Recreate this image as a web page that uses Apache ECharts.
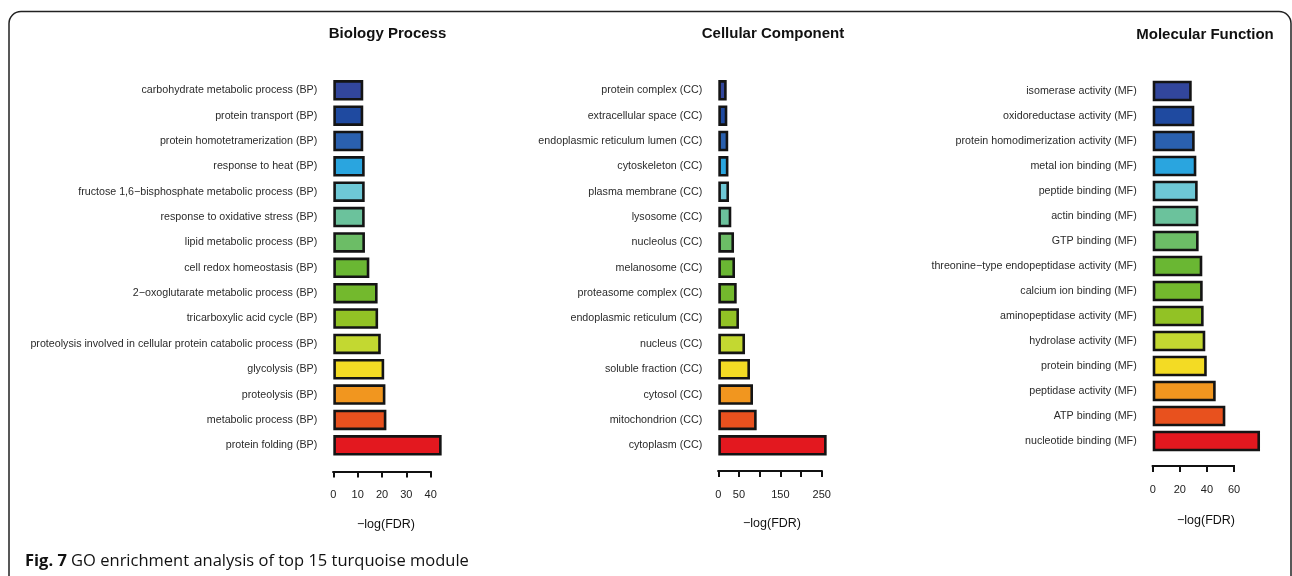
<!DOCTYPE html>
<html>
<head>
<meta charset="utf-8">
<style>
  html, body { margin: 0; padding: 0; background: #fff; }
  #chart { width: 1292px; height: 576px; }
</style>
<script src="https://cdn.jsdelivr.net/npm/echarts@6/dist/echarts.min.js"></script>
</head>
<body>
<div id="chart"></div>
<script>
// GO terms, listed top to bottom, with their -log(FDR) scores
const bpTerms = [
  'carbohydrate metabolic process (BP)',
  'protein transport (BP)',
  'protein homotetramerization (BP)',
  'response to heat (BP)',
  'fructose 1,6\u2212bisphosphate metabolic process (BP)',
  'response to oxidative stress (BP)',
  'lipid metabolic process (BP)',
  'cell redox homeostasis (BP)',
  '2\u2212oxoglutarate metabolic process (BP)',
  'tricarboxylic acid cycle (BP)',
  'proteolysis involved in cellular protein catabolic process (BP)',
  'glycolysis (BP)',
  'proteolysis (BP)',
  'metabolic process (BP)',
  'protein folding (BP)'
];
const bpValues = [12.3, 12.3, 12.3, 12.9, 12.9, 12.9, 13.0, 14.8, 18.2, 18.4, 19.5, 20.9, 21.4, 21.8, 44.5];

const ccTerms = [
  'protein complex (CC)',
  'extracellular space (CC)',
  'endoplasmic reticulum lumen (CC)',
  'cytoskeleton (CC)',
  'plasma membrane (CC)',
  'lysosome (CC)',
  'nucleolus (CC)',
  'melanosome (CC)',
  'proteasome complex (CC)',
  'endoplasmic reticulum (CC)',
  'nucleus (CC)',
  'soluble fraction (CC)',
  'cytosol (CC)',
  'mitochondrion (CC)',
  'cytoplasm (CC)'
];
const ccValues = [20.3, 21.8, 24.0, 24.5, 25.9, 31.4, 38.0, 40.4, 44.5, 50.0, 64.6, 76.6, 83.9, 92.8, 262.0];

const mfTerms = [
  'isomerase activity (MF)',
  'oxidoreductase activity (MF)',
  'protein homodimerization activity (MF)',
  'metal ion binding (MF)',
  'peptide binding (MF)',
  'actin binding (MF)',
  'GTP binding (MF)',
  'threonine\u2212type endopeptidase activity (MF)',
  'calcium ion binding (MF)',
  'aminopeptidase activity (MF)',
  'hydrolase activity (MF)',
  'protein binding (MF)',
  'peptidase activity (MF)',
  'ATP binding (MF)',
  'nucleotide binding (MF)'
];
const mfValues = [28.8, 30.7, 31.0, 32.2, 33.2, 33.7, 33.9, 36.6, 36.9, 37.6, 38.8, 39.9, 46.5, 53.6, 79.2];

// bar fill colours, blue at the top through red at the bottom
const barColors = [
  '#32469c', '#1f4aa0', '#2a60ae', '#2aa5df', '#6ec8d6',
  '#6bc29c', '#6cbd66', '#6ab733', '#73b92d', '#92c225',
  '#c3d831', '#f3db24', '#f1961f', '#e8511e', '#e3181f'
];

const panelTitles = ['Biology Process', 'Cellular Component', 'Molecular Function'];
const axisTitle = '\u2212log(FDR)';
const bpTicks = { max: 40, interval: 10 };
const ccTicks = { max: 250, interval: 50, shown: [0, 50, 150, 250] };
const mfTicks = { max: 60, interval: 20 };
const caption = ['Fig. 7', 'GO enrichment analysis of top 15 turquoise module'];

const FONT = '"Liberation Sans", Arial, Helvetica, sans-serif';

function xAxisFor(gridIndex, ticks, offset) {
  return {
    type: 'value',
    gridIndex: gridIndex,
    min: 0,
    max: ticks.max,
    interval: ticks.interval,
    offset: offset,
    splitLine: { show: false },
    axisLine: { show: true, lineStyle: { color: '#111', width: 2, cap: 'square' } },
    axisTick: { show: true, inside: false, length: 6, lineStyle: { color: '#111', width: 2 } },
    axisLabel: {
      color: '#222',
      fontFamily: FONT,
      fontSize: 11,
      margin: 18,
      showMinLabel: true,
      showMaxLabel: true,
      formatter: function (v) {
        if (ticks.shown && ticks.shown.indexOf(v) < 0) return '';
        return String(v);
      }
    }
  };
}

function yAxisFor(gridIndex, terms) {
  return {
    type: 'category',
    gridIndex: gridIndex,
    data: terms,
    inverse: true,
    axisLine: { show: false },
    axisTick: { show: false },
    splitLine: { show: false },
    axisLabel: {
      color: '#2b2b2b',
      fontFamily: FONT,
      fontSize: 10.7,
      margin: 16,
      interval: 0
    }
  };
}

function barSeries(index, values) {
  return {
    type: 'bar',
    xAxisIndex: index,
    yAxisIndex: index,
    barWidth: 20.5,
    clip: false,
    silent: true,
    animation: false,
    data: values.map(function (v, i) {
      return {
        value: v,
        itemStyle: { color: barColors[i], borderColor: '#141414', borderWidth: 2.6 }
      };
    })
  };
}

function label(x, y, text, size, weight) {
  return {
    type: 'text',
    x: x,
    y: y,
    style: {
      text: text,
      fill: '#111',
      font: (weight || 'normal') + ' ' + size + 'px ' + FONT,
      textAlign: 'center',
      textVerticalAlign: 'middle'
    }
  };
}

const chart = echarts.init(document.getElementById('chart'), null, { renderer: 'canvas' });

chart.setOption({
  animation: false,
  backgroundColor: '#ffffff',
  grid: [
    { left: 333.3, top: 77.6, width: 97.4, height: 380.4 },
    { left: 718.3, top: 77.6, width: 103.4, height: 380.4 },
    { left: 1152.7, top: 78.5, width: 81.3, height: 375 }
  ],
  xAxis: [
    xAxisFor(0, bpTicks, 13.5),
    xAxisFor(1, ccTicks, 13),
    xAxisFor(2, mfTicks, 12.5)
  ],
  yAxis: [
    yAxisFor(0, bpTerms),
    yAxisFor(1, ccTerms),
    yAxisFor(2, mfTerms)
  ],
  series: [
    barSeries(0, bpValues),
    barSeries(1, ccValues),
    barSeries(2, mfValues)
  ],
  graphic: [
    // rounded figure frame
    {
      type: 'rect',
      shape: { x: 9, y: 11.5, width: 1282, height: 640, r: 12 },
      style: { fill: 'none', stroke: '#222', lineWidth: 1.5 }
    },
    label(387.5, 33.5, panelTitles[0], 15, 'bold'),
    label(773, 33.5, panelTitles[1], 15, 'bold'),
    label(1205, 34.5, panelTitles[2], 15, 'bold'),
    label(386, 525, axisTitle, 12.5),
    label(772, 524, axisTitle, 12.5),
    label(1206, 521, axisTitle, 12.5),
    {
      type: 'text',
      x: 25,
      y: 561.5,
      style: {
        text: '{b|' + caption[0] + '} ' + caption[1],
        fill: '#111',
        font: 'normal 16.5px "Open Sans", "Noto Sans", sans-serif',
        textVerticalAlign: 'middle',
        rich: {
          b: { fontWeight: 'bold', fontFamily: '"Open Sans", "Noto Sans", sans-serif', fontSize: 16.5, fill: '#111' }
        }
      }
    }
  ]
});
</script>
</body>
</html>
